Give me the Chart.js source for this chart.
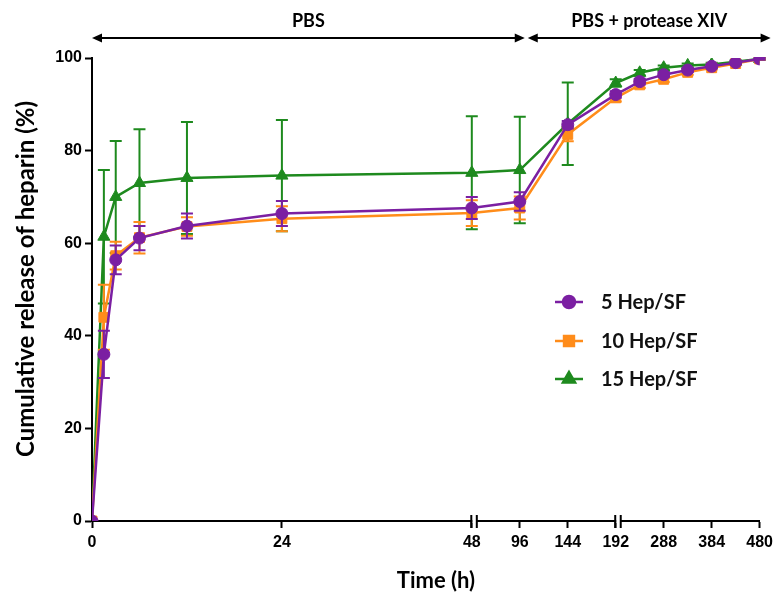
<!DOCTYPE html>
<html><head><meta charset="utf-8">
<script src="https://cdn.jsdelivr.net/npm/chart.js@4.4.0/dist/chart.umd.min.js"></script>
<style>html,body{margin:0;padding:0;background:#fff;}#wrap{width:778px;height:595px;position:relative;}</style>
</head><body><div id="wrap"><canvas id="c" width="778" height="595"></canvas></div>
<script>
// ---- data ----
const timesH   = [0, 1.5, 3, 6, 12, 24, 48, 96, 144, 192, 240, 288, 336, 384, 432, 480];
const hep5     = [0, 36.0, 56.4, 61.1, 63.7, 66.4, 67.6, 69.0, 85.6, 92.1, 94.9, 96.4, 97.4, 98.2, 99.0, 99.8];
const hep5Sd   = [0, 5.1, 3.1, 2.6, 2.7, 2.7, 2.4, 2.0, 0.8, 0.7, 0.6, 0.5, 0.4, 0.4, 0.3, 0.2];
const hep10    = [0, 44.0, 57.3, 61.2, 63.6, 65.3, 66.5, 67.6, 83.5, 91.4, 94.2, 95.4, 96.9, 97.9, 98.8, 99.8];
const hep10Sd  = [0, 7.0, 3.0, 3.4, 2.0, 2.7, 2.8, 2.5, 1.5, 0.8, 0.7, 0.6, 0.5, 0.4, 0.3, 0.2];
const hep15    = [0, 61.4, 70.0, 73.0, 74.1, 74.6, 75.2, 75.8, 85.8, 94.6, 96.8, 97.9, 98.4, 98.6, 99.2, 99.8];
const hep15Sd  = [0, 14.4, 12.1, 11.6, 12.1, 12.0, 12.2, 11.5, 8.9, 0.8, 0.6, 0.5, 0.4, 0.4, 0.3, 0.2];
const seriesNames = ['5 Hep/SF', '10 Hep/SF', '15 Hep/SF'];
const xTickLabels = [0, 24, 48, 96, 144, 192, 288, 384, 480];
const xBreaks = [48, 192];
const phaseLabels = ['PBS', 'PBS + protease XIV'];

// piecewise (broken) time axis: 0-48 h, 48-192 h, 192-480 h
function axisPos(t){
  if (t <= 48) return t * 380 / 48;
  if (t <= 192) return 380 + (t - 48);
  return 524 + (t - 192) * 0.5;
}
const toPts = (arr) => arr.map((v, i) => ({x: axisPos(timesH[i]), y: v}));

const colors = ['#7b1fa2', '#ff8c1a', '#1e8a1e'];
const styles = ['circle', 'rect', 'triangle'];
const radii = [6, 7, 7];
const sds = [hep5Sd, hep10Sd, hep15Sd];
const vals = [hep5, hep10, hep15];

const datasets = vals.map((arr, k) => ({
  label: seriesNames[k],
  data: toPts(arr),
  borderColor: colors[k],
  backgroundColor: colors[k],
  pointBackgroundColor: colors[k],
  pointBorderColor: colors[k],
  pointStyle: styles[k],
  pointRadius: radii[k],
  pointHoverRadius: radii[k],
  pointBorderWidth: 1,
  borderWidth: 2.5,
  tension: 0,
  errors: sds[k]
}));

const errorBars = {
  id: 'errorBars',
  beforeDatasetDraw(chart, args) {
    const ds = chart.data.datasets[args.index];
    const meta = args.meta;
    const ys = chart.scales.y;
    const ctx = chart.ctx;
    ctx.save();
    ctx.strokeStyle = ds.borderColor;
    ctx.lineWidth = 2;
    meta.data.forEach((pt, i) => {
      const e = ds.errors[i];
      if (!e) return;
      const v = ds.data[i].y;
      const yTop = ys.getPixelForValue(v + e);
      const yBot = ys.getPixelForValue(v - e);
      const x = pt.x;
      ctx.beginPath();
      ctx.moveTo(x, yTop); ctx.lineTo(x, yBot);
      ctx.moveTo(x - 6, yTop); ctx.lineTo(x + 6, yTop);
      ctx.moveTo(x - 6, yBot); ctx.lineTo(x + 6, yBot);
      ctx.stroke();
    });
    ctx.restore();
  }
};

function arrowHead(ctx, x, y, dir) {
  ctx.beginPath();
  ctx.moveTo(x, y);
  ctx.lineTo(x - dir * 10, y - 4.5);
  ctx.lineTo(x - dir * 10, y + 4.5);
  ctx.closePath();
  ctx.fill();
}

const decor = {
  id: 'decor',
  afterDraw(chart) {
    const ctx = chart.ctx;
    const xs = chart.scales.x;
    const area = chart.chartArea;
    ctx.save();
    // axis breaks
    xBreaks.forEach(t => {
      const x = xs.getPixelForValue(axisPos(t));
      ctx.fillStyle = '#fff';
      ctx.fillRect(x + 0.5, area.bottom - 2, 4, 4);
      ctx.strokeStyle = '#000';
      ctx.lineWidth = 2;
      ctx.beginPath();
      ctx.moveTo(x - 0.5, area.bottom - 6); ctx.lineTo(x - 0.5, area.bottom + 7);
      ctx.moveTo(x + 5, area.bottom - 6); ctx.lineTo(x + 5, area.bottom + 7);
      ctx.stroke();
    });
    // phase arrows
    const yA = 38;
    const x0 = xs.getPixelForValue(0);
    const x1 = xs.getPixelForValue(axisPos(96)) + 5;
    const x2 = x1 + 3;
    const x3 = area.right + 11;
    ctx.strokeStyle = '#000'; ctx.fillStyle = '#000'; ctx.lineWidth = 2;
    ctx.beginPath();
    ctx.moveTo(x0 + 4, yA); ctx.lineTo(x1 - 4, yA);
    ctx.moveTo(x2 + 4, yA); ctx.lineTo(x3 - 4, yA);
    ctx.stroke();
    arrowHead(ctx, x0, yA, -1); arrowHead(ctx, x1, yA, 1);
    arrowHead(ctx, x2, yA, -1); arrowHead(ctx, x3, yA, 1);
    ctx.font = 'bold 18px Lato';
    ctx.textAlign = 'center'; ctx.textBaseline = 'middle';
    ctx.fillText(phaseLabels[0], (x0 + x1) / 2, 21);
    ctx.fillText(phaseLabels[1], (x2 + x3) / 2, 21);
    // axis titles
    ctx.font = 'bold 22px Lato';
    ctx.fillText('Time (h)', 436, 581);
    ctx.save();
    ctx.translate(26, 279);
    ctx.rotate(-Math.PI / 2);
    ctx.font = 'bold 24px Lato';
    ctx.fillText('Cumulative release of heparin (%)', 0, 0);
    ctx.restore();
    // legend
    const ly = [302, 341, 379];
    chart.data.datasets.forEach((ds, k) => {
      ctx.strokeStyle = ds.borderColor; ctx.fillStyle = ds.backgroundColor;
      ctx.lineWidth = 2.5;
      ctx.beginPath(); ctx.moveTo(555, ly[k]); ctx.lineTo(583, ly[k]); ctx.stroke();
      Chart.helpers.drawPoint(ctx, {pointStyle: ds.pointStyle, radius: ds.pointRadius, rotation: 0, borderWidth: 1}, 569, ly[k]);
      ctx.fill();
      ctx.fillStyle = '#111';
      ctx.font = 'bold 20px Lato';
      ctx.textAlign = 'left';
      ctx.fillText(ds.label, 601, ly[k] + 1);
    });
    ctx.restore();
  }
};

new Chart(document.getElementById('c'), {
  type: 'line',
  data: { datasets },
  plugins: [errorBars, decor],
  options: {
    responsive: false,
    animation: false,
    events: [],
    layout: { padding: { left: 0, right: 16, top: 58, bottom: 0 } },
    plugins: { legend: { display: false }, tooltip: { enabled: false } },
    scales: {
      x: {
        type: 'linear',
        min: 0, max: axisPos(480),
        afterFit(s) { s.height = 74; },
        afterBuildTicks(s) { s.ticks = xTickLabels.map(t => ({ value: axisPos(t) })); },
        ticks: {
          autoSkip: false, maxRotation: 0, padding: 5, color: '#000',
          font: { family: 'Liberation Sans', weight: 'bold', size: 16 },
          callback: (v, i) => String(xTickLabels[i])
        },
        grid: { drawOnChartArea: false, drawTicks: true, tickLength: 7, tickWidth: 2, tickColor: '#000' },
        border: { display: true, color: '#000', width: 2 }
      },
      y: {
        min: 0, max: 100,
        afterFit(s) { s.width = 92; },
        ticks: {
          stepSize: 20, padding: 3, color: '#000',
          font: { family: 'Liberation Sans', weight: 'bold', size: 16 }
        },
        grid: { drawOnChartArea: false, drawTicks: true, tickLength: 7, tickWidth: 2, tickColor: '#000' },
        border: { display: true, color: '#000', width: 2 }
      }
    }
  }
});
</script></body></html>
